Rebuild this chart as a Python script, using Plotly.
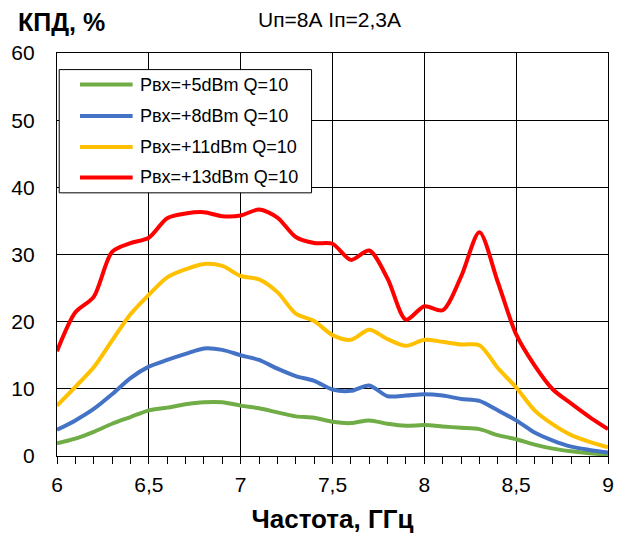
import plotly.graph_objects as go

freq = [round(6.0 + 0.1 * i, 1) for i in range(31)]

p5 = [1.9, 2.6, 3.6, 4.8, 5.8, 6.8, 7.2, 7.7, 8.0, 8.0, 7.5, 7.1, 6.5, 5.9, 5.7, 5.1,
      4.9, 5.3, 4.8, 4.5, 4.6, 4.4, 4.2, 4.0, 3.1, 2.5, 1.7, 1.1, 0.7, 0.4, 0.2]
p8 = [3.9, 5.3, 7.0, 9.2, 11.6, 13.3, 14.3, 15.2, 16.0, 15.8, 15.0, 14.3, 13.0, 11.9, 11.2, 9.9,
      9.7, 10.5, 8.9, 9.0, 9.2, 9.0, 8.5, 8.2, 6.8, 5.3, 3.5, 2.3, 1.4, 0.9, 0.5]
p11 = [7.5, 10.3, 13.2, 17.2, 21.1, 24.0, 26.6, 27.8, 28.6, 28.3, 26.8, 26.3, 24.4, 21.2, 20.1, 18.0,
       17.3, 18.8, 17.4, 16.4, 17.3, 17.0, 16.6, 16.5, 13.1, 10.2, 6.8, 4.7, 3.1, 2.1, 1.3]
p13 = [15.6, 21.4, 23.7, 30.4, 31.7, 32.5, 35.4, 36.1, 36.3, 35.7, 35.8, 36.7, 35.5, 32.6, 31.7, 31.6,
       29.2, 30.6, 26.4, 20.3, 22.3, 21.7, 26.7, 33.3, 25.9, 18.1, 13.5, 9.9, 7.8, 5.8, 4.0]

names = ["Pвх=+5dBm Q=10", "Pвх=+8dBm Q=10", "Pвх=+11dBm Q=10", "Pвх=+13dBm Q=10"]
colors = ["#70AD47", "#4472C4", "#FFC000", "#FF0000"]
series = [p5, p8, p11, p13]

FONT = "Liberation Sans, Arial, sans-serif"

fig = go.Figure()
for n, c, s in zip(names, colors, series):
    fig.add_trace(go.Scatter(x=freq, y=s, name=n, mode="lines", showlegend=False,
                             line=dict(color=c, width=4, shape="spline", smoothing=0.8)))

# custom legend (box, line samples and labels) in paper coordinates
legend_y = [0.9217, 0.8438, 0.7669, 0.6911]
shapes = [dict(type="rect", xref="paper", yref="paper", x0=0.004, x1=0.462, y0=0.653, y1=0.9588,
               line=dict(color="black", width=1), fillcolor="white", layer="above")]
annotations = []
for n, c, ly in zip(names, colors, legend_y):
    shapes.append(dict(type="line", xref="paper", yref="paper", x0=0.0417, x1=0.1373, y0=ly, y1=ly,
                       line=dict(color=c, width=4), layer="above"))
    annotations.append(dict(text=n, xref="paper", yref="paper", x=0.1474, y=ly,
                            xanchor="left", yanchor="middle", showarrow=False,
                            font=dict(size=18, color="black")))

annotations += [
    dict(text="<b>КПД, %</b>", xref="paper", yref="paper", x=-0.0743, y=1.077,
         xanchor="left", yanchor="middle", showarrow=False, font=dict(size=25)),
    dict(text="Uп=8А Iп=2,3А", xref="paper", yref="paper", x=0.495, y=1.082,
         xanchor="center", yanchor="middle", showarrow=False, font=dict(size=21)),
]

# the page body has an 8px default margin, so the figure is sized/offset accordingly
fig.update_layout(
    width=614, height=531,
    margin=dict(l=49, r=13.5, t=44.7, b=83),
    paper_bgcolor="white", plot_bgcolor="white",
    separators=", ",
    font=dict(family=FONT, size=21, color="black"),
    showlegend=False,
    shapes=shapes,
    annotations=annotations,
    xaxis=dict(range=[6, 9], dtick=0.5, tick0=6, showgrid=True, gridcolor="black", gridwidth=1.3,
               showline=True, linecolor="black", linewidth=1.3, mirror=True, automargin=False,
               ticks="outside", ticklen=7, tickcolor="black", ticklabelstandoff=3,
               minor=dict(dtick=0.1, ticks="outside", ticklen=7, tickcolor="black", showgrid=False),
               zeroline=False, tickfont=dict(size=21),
               title=dict(text="<b>Частота, ГГц</b>", font=dict(size=26), standoff=14)),
    yaxis=dict(range=[0, 60], dtick=10, showgrid=True, gridcolor="black", gridwidth=1.3,
               showline=True, linecolor="black", linewidth=1.3, mirror=True, automargin=False,
               ticks="", zeroline=False, tickfont=dict(size=21), ticklabelstandoff=17),
)

fig.write_html("out.html")
